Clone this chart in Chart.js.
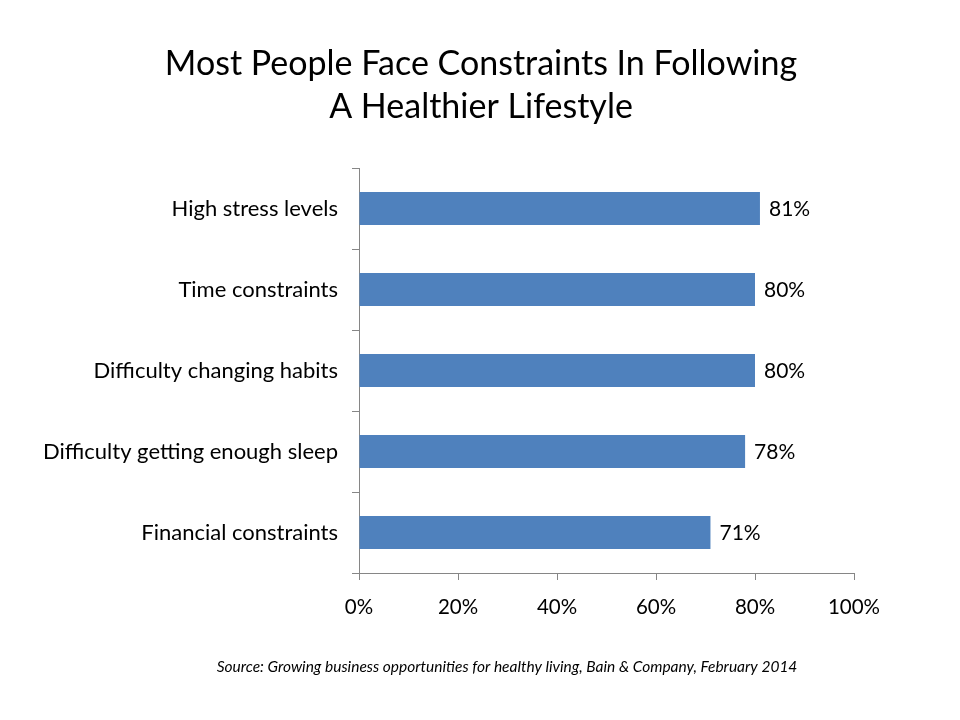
<!DOCTYPE html>
<html>
<head>
<meta charset="utf-8">
<script src="https://cdn.jsdelivr.net/npm/chart.js@4/dist/chart.umd.min.js"></script>
<style>
html,body{margin:0;padding:0;background:#fff;}
#wrap{width:960px;height:720px;}
</style>
</head>
<body>
<div id="wrap"><canvas id="c" width="960" height="720"></canvas></div>
<script>
const categories = ["High stress levels", "Time constraints", "Difficulty changing habits", "Difficulty getting enough sleep", "Financial constraints"];
const values = [81, 80, 80, 78, 71];
const xTicks = [0, 20, 40, 60, 80, 100];
const titleLines = ["Most People Face Constraints In Following", "A Healthier Lifestyle"];
const sourceText = "Source: Growing business opportunities for healthy living, Bain & Company, February 2014";

const FONT = "Lato, 'Open Sans', sans-serif";
const AXIS = "#868686";

const labelsPlugin = {
  id: 'valueLabels',
  afterDatasetsDraw(chart) {
    const ctx = chart.ctx;
    const meta = chart.getDatasetMeta(0);
    ctx.save();
    ctx.font = "21px " + FONT;
    ctx.fillStyle = "#000";
    ctx.textAlign = "left";
    ctx.textBaseline = "middle";
    meta.data.forEach((bar, i) => {
      ctx.fillText(values[i] + "%", bar.x + 9, bar.y + 1);
    });
    ctx.restore();
  }
};

const textPlugin = {
  id: 'titleAndSource',
  afterDraw(chart) {
    const ctx = chart.ctx;
    ctx.save();
    ctx.fillStyle = "#000";
    ctx.textAlign = "center";
    ctx.textBaseline = "middle";
    ctx.font = "34px " + FONT;
    ctx.fillText(titleLines[0], 481, 64);
    ctx.fillText(titleLines[1], 481, 107);
    ctx.font = "italic 15.5px " + FONT;
    ctx.fillText(sourceText, 507, 667);
    ctx.restore();
  }
};

new Chart(document.getElementById('c'), {
  type: 'bar',
  data: {
    labels: categories,
    datasets: [{
      data: values,
      backgroundColor: "#4F81BD",
      borderWidth: 0,
      categoryPercentage: 1.0,
      barPercentage: 0.41
    }]
  },
  options: {
    indexAxis: 'y',
    responsive: false,
    animation: false,
    devicePixelRatio: 1,
    layout: { padding: { left: 0, right: 106, top: 168, bottom: 60 } },
    plugins: {
      legend: { display: false },
      tooltip: { enabled: false },
      title: { display: false }
    },
    scales: {
      x: {
        type: 'linear',
        min: 0,
        max: 100,
        afterBuildTicks(scale) { scale.ticks = xTicks.map(v => ({ value: v })); },
        afterFit(scale) { scale.height = 87; },
        grid: { drawOnChartArea: false, drawTicks: true, tickLength: 7, color: AXIS },
        border: { display: true, color: AXIS, width: 1 },
        ticks: {
          color: "#000",
          padding: 15,
          maxRotation: 0,
          font: { family: FONT, size: 20.5 },
          callback: v => v + "%"
        }
      },
      y: {
        afterFit(scale) { scale.width = 359; },
        grid: { drawOnChartArea: false, drawTicks: true, tickLength: 7, color: AXIS, offset: true },
        border: { display: true, color: AXIS, width: 1 },
        ticks: {
          color: "#000",
          padding: 14,
          font: { family: FONT, size: 22 }
        }
      }
    }
  },
  plugins: [labelsPlugin, textPlugin]
});
</script>
</body>
</html>
